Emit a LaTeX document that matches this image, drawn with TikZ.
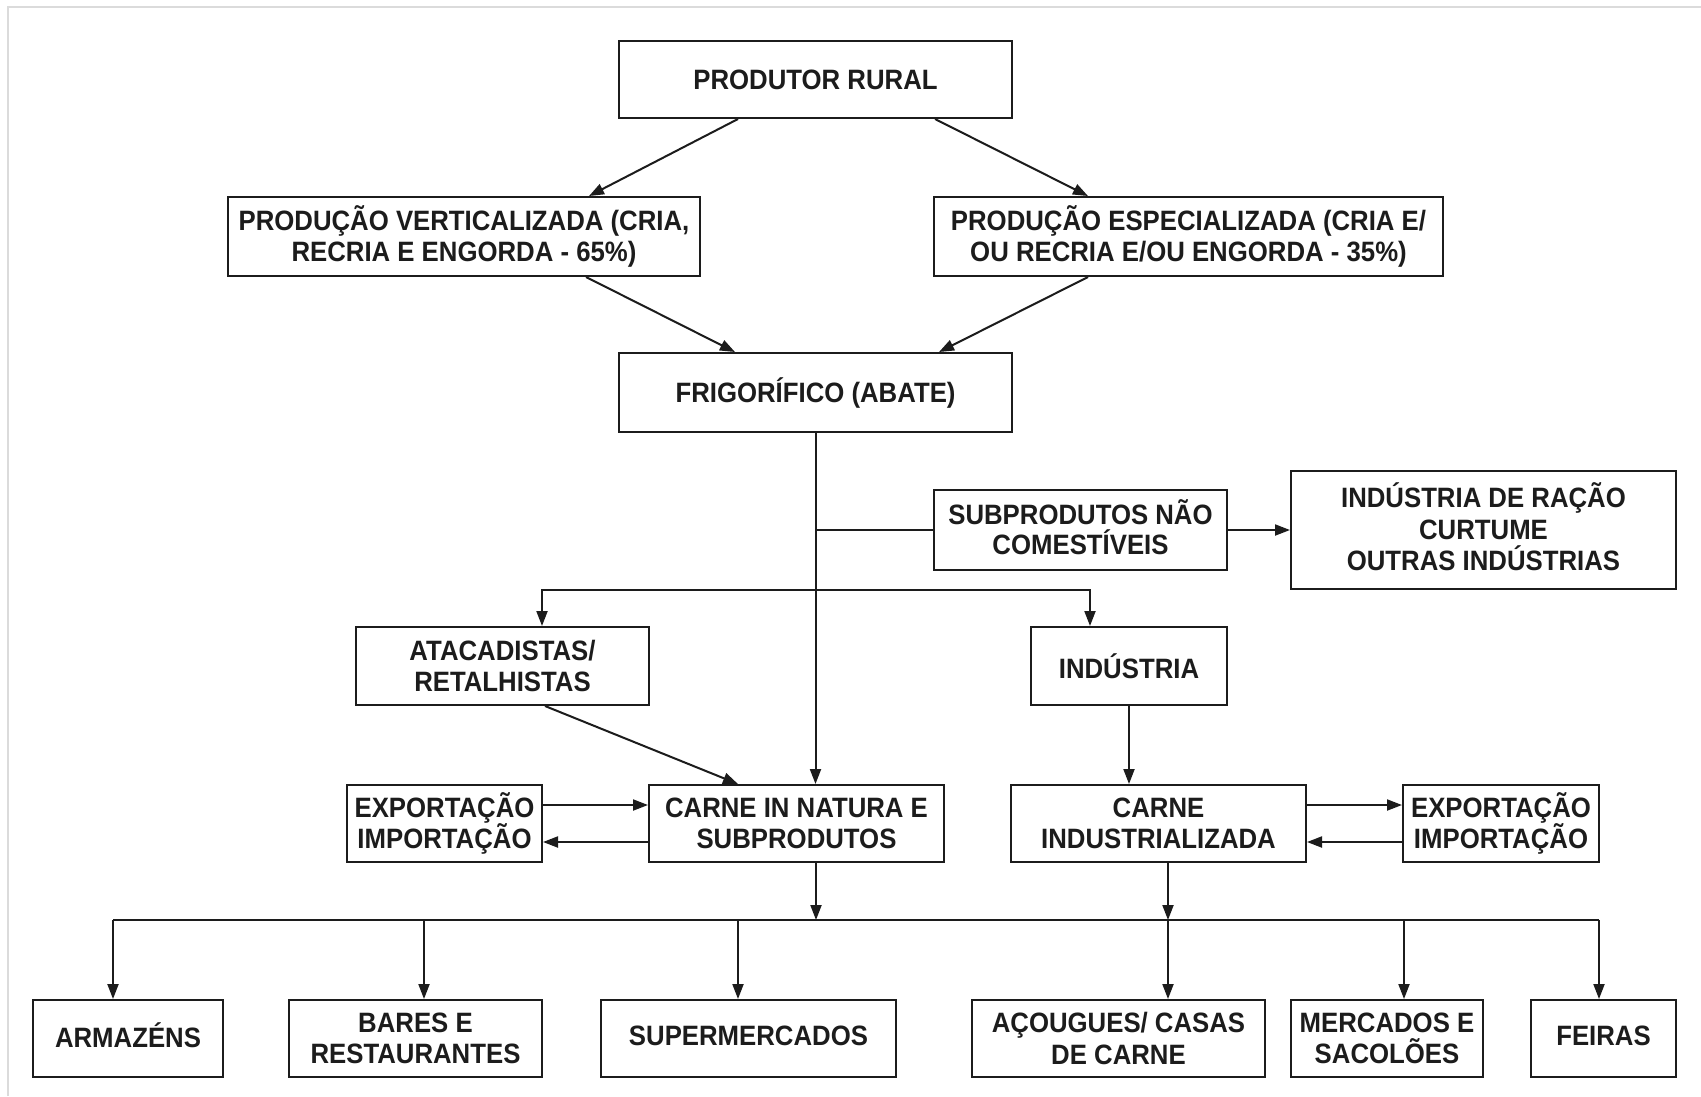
\documentclass[tikz,border=0pt]{standalone}
\usepackage{fontspec}
\setmainfont{Liberation Sans}[FakeStretch=0.92]
\usetikzlibrary{arrows.meta}
\definecolor{ink}{HTML}{1C1C1C}
\tikzset{
  box/.style={draw=ink, line width=2pt, rectangle, inner sep=0pt, align=center,
    text=ink, font=\fontsize{28}{31.5}\selectfont\bfseries},
  lift/.style={text depth=6pt},
  link/.style={draw=ink, line width=2pt},
  arr/.style={link, -{Triangle[length=15pt,width=11pt]}},
  frame/.style={draw=black!14, line width=2pt}
}
\begin{document}
\begin{tikzpicture}[x=1pt, y=-1pt]
\useasboundingbox[fill=white] (0,0) rectangle (1701,1096);
% faint outer frame (top and left edges)
\draw[frame] (8,1096) -- (8,7) -- (1701,7);

% --- nodes ---
\node[box, minimum width=393pt, minimum height=77pt] (prod)  at (815.5,79.5)  {PRODUTOR RURAL};
\node[box, minimum width=472pt, minimum height=79pt] (vert)  at (464,236.5)   {PRODUÇÃO VERTICALIZADA (CRIA,\\RECRIA E ENGORDA - 65\%)};
\node[box, minimum width=509pt, minimum height=79pt] (espec) at (1188.5,236.5) {PRODUÇÃO ESPECIALIZADA (CRIA E/\\OU RECRIA E/OU ENGORDA - 35\%)};
\node[box, minimum width=393pt, minimum height=79pt] (frig)  at (815.5,392.5) {FRIGORÍFICO (ABATE)};
\node[box, minimum width=293pt, minimum height=80pt, lift, font=\fontsize{28}{29.5}\selectfont\bfseries] (subp) at (1080.5,530) {SUBPRODUTOS NÃO\\COMESTÍVEIS};
\node[box, minimum width=385pt, minimum height=118pt, lift] (racao) at (1483.5,530) {INDÚSTRIA DE RAÇÃO\\CURTUME\\OUTRAS INDÚSTRIAS};
\node[box, minimum width=293pt, minimum height=78pt] (atac)  at (502.5,666)   {ATACADISTAS/\\RETALHISTAS};
\node[box, minimum width=196pt, minimum height=78pt] (ind)   at (1129,666)    {INDÚSTRIA};
\node[box, minimum width=195pt, minimum height=77pt] (expL)  at (444.5,823.5) {EXPORTAÇÃO\\IMPORTAÇÃO};
\node[box, minimum width=295pt, minimum height=77pt] (cin)   at (796.5,823.5) {CARNE IN NATURA E\\SUBPRODUTOS};
\node[box, minimum width=295pt, minimum height=77pt] (cind)  at (1158.5,823.5) {CARNE\\INDUSTRIALIZADA};
\node[box, minimum width=196pt, minimum height=77pt] (expR)  at (1501,823.5)  {EXPORTAÇÃO\\IMPORTAÇÃO};

\node[box, minimum width=190pt, minimum height=77pt, lift] (arm)  at (128,1038.5)    {ARMAZÉNS};
\node[box, minimum width=253pt, minimum height=77pt] (bar)  at (415.5,1038.5)  {BARES E\\RESTAURANTES};
\node[box, minimum width=295pt, minimum height=77pt, lift] (sup)  at (748.5,1038.5)  {SUPERMERCADOS};
\node[box, minimum width=293pt, minimum height=77pt] (acou) at (1118.5,1038.5) {AÇOUGUES/ CASAS\\DE CARNE};
\node[box, minimum width=192pt, minimum height=77pt] (merc) at (1387,1038.5)   {MERCADOS E\\SACOLÕES};
\node[box, minimum width=145pt, minimum height=77pt, lift] (feir) at (1603.5,1038.5) {FEIRAS};

% --- helper coordinates for the bus lines ---
\coordinate (split) at (815.5,590);
\coordinate (busy)  at (0,920);

% --- production chain ---
\draw[arr] ([xshift=-77.5pt]prod.south) -- ([xshift=125pt]vert.north);
\draw[arr] ([xshift=119.5pt]prod.south) -- ([xshift=-100.5pt]espec.north);
\draw[arr] ([xshift=122pt]vert.south) -- ([xshift=-80.5pt]frig.north);
\draw[arr] ([xshift=-100.5pt]espec.south) -- ([xshift=123.5pt]frig.north);

% --- slaughterhouse outputs ---
\draw[arr] (frig.south) -- (frig.south |- cin.north);
\draw[link] (frig.south |- subp.west) -- (subp.west);
\draw[arr] (subp.east) -- (racao.west);
\draw[arr] (split) -| ([xshift=39.5pt]atac.north);
\draw[arr] (split) -| ([xshift=-39pt]ind.north);
\draw[arr] ([xshift=42.5pt]atac.south) -- ([xshift=-58.5pt]cin.north);
\draw[arr] (ind.south) -- (ind.south |- cind.north);

% --- foreign trade ---
\draw[arr] ([yshift=18.5pt]expL.east) -- ([yshift=18.5pt]expL.east -| cin.west);
\draw[arr] ([yshift=-18.5pt]cin.west) -- ([yshift=-18.5pt]cin.west -| expL.east);
\draw[arr] ([yshift=18.5pt]cind.east) -- ([yshift=18.5pt]cind.east -| expR.west);
\draw[arr] ([yshift=-18.5pt]expR.west) -- ([yshift=-18.5pt]expR.west -| cind.east);

% --- distribution bus ---
\draw[arr] ([xshift=19.5pt]cin.south) -- ([xshift=19.5pt]cin.south |- busy);
\draw[arr] ([xshift=9.5pt]cind.south) -- ([xshift=9.5pt]cind.south |- busy);
\draw[link] ([xshift=-15pt]arm.north |- busy) -- ([xshift=-4.5pt]feir.north |- busy);
\draw[arr] ([xshift=-15pt]arm.north |- busy) -- ([xshift=-15pt]arm.north);
\draw[arr] ([xshift=8.5pt]bar.north |- busy) -- ([xshift=8.5pt]bar.north);
\draw[arr] ([xshift=-10.5pt]sup.north |- busy) -- ([xshift=-10.5pt]sup.north);
\draw[arr] ([xshift=49.5pt]acou.north |- busy) -- ([xshift=49.5pt]acou.north);
\draw[arr] ([xshift=17pt]merc.north |- busy) -- ([xshift=17pt]merc.north);
\draw[arr] ([xshift=-4.5pt]feir.north |- busy) -- ([xshift=-4.5pt]feir.north);
\end{tikzpicture}
\end{document}
